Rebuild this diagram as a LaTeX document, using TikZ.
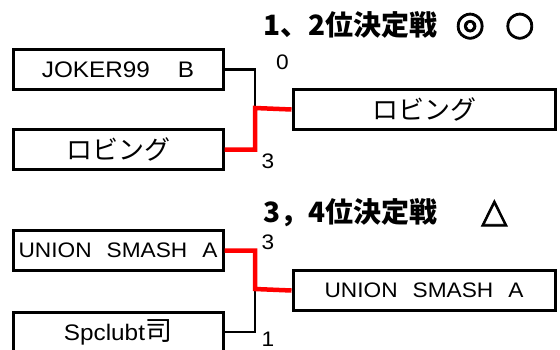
\documentclass[tikz,border=0pt]{standalone}
\usepackage{fontspec}
\setmainfont{Liberation Sans}[FakeStretch=1.08]
\newfontfamily\jp{Noto Sans CJK JP}
\newfontfamily\sym{DejaVu Sans}[FakeBold=2.5]
\begin{document}
\begin{tikzpicture}[x=1pt,y=-1pt,
  team/.style={draw,line width=3pt,minimum width=210pt,minimum height=40pt,inner sep=0pt,font=\fontsize{22.5}{24}\selectfont},
  final/.style={team,minimum width=262pt},
  lose/.style={line width=2.6pt},
  win/.style={line width=4.5pt,red},
  score/.style={anchor=base,inner sep=0pt,font=\fontsize{21}{23}\selectfont},
  title/.style={anchor=base west,inner sep=0pt,font=\jp\bfseries\fontsize{28}{30}\selectfont}]
\useasboundingbox (0,0) rectangle (560,349);
% 1-2 final
\node[team] (b1) at (118,69.5) {JOKER99\hspace{28pt}B};
\node[team] (b2) at (118,149.5) {\jp\fontsize{26}{28}\selectfont ロビング};
\node[final] (b3) at (424,109.5) {\jp\fontsize{26}{28}\selectfont ロビング};
\coordinate (m1) at (255,108);
\draw[lose] (b1.east) -| (m1);
\draw[win] (b2.east) -| (m1) -- (b3.west);
\node[title] (t1) at (263,35) {1、2位決定戦\hspace{18pt}{\sym\fontsize{34}{35}\selectfont ◎}\hspace{20pt}{\sym\fontsize{34}{35}\selectfont ○}};
\node[score] (s1) at (282.5,69) {0};
\node[score] (s2) at (268,168) {3};
% 3-4 final
\node[team,font=\fontsize{21}{23}\selectfont] (b4) at (118,250.5) {UNION\hspace{15pt}SMASH\hspace{15pt}A};
\node[team,font=\fontsize{22.5}{24}\selectfont] (b5) at (118,332) {Spclubt{\jp\fontsize{27}{28}\selectfont 司}};
\node[final,font=\fontsize{21}{23}\selectfont] (b6) at (424,290.5) {UNION\hspace{15pt}SMASH\hspace{15pt}A};
\coordinate (m2) at (255,289);
\draw[lose] (b5.east) -| (m2);
\draw[win] (b4.east) -| (m2) -- (b6.west);
\node[title] (t2) at (263,222) {3，4位決定戦\hspace{44pt}{\sym\fontsize{34}{35}\selectfont △}};
\node[score] (s3) at (268,249) {3};
\node[score] (s4) at (268,346) {1};
\end{tikzpicture}
\end{document}
